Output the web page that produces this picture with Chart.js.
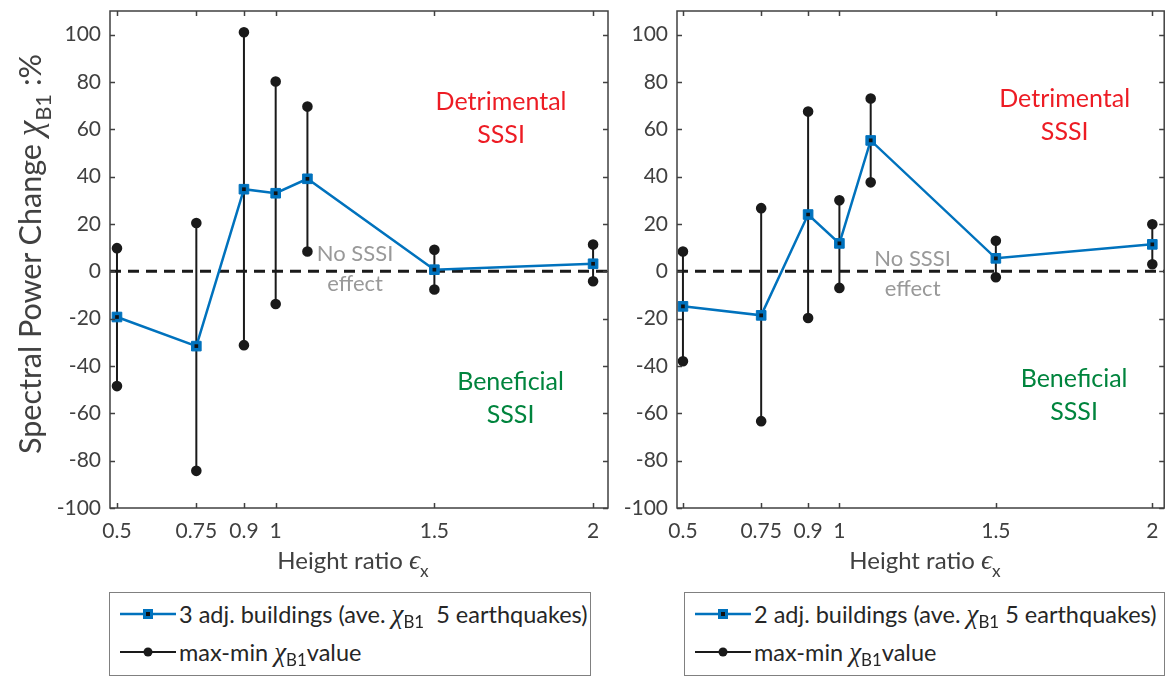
<!DOCTYPE html>
<html>
<head>
<meta charset="utf-8">
<script src="https://cdn.jsdelivr.net/npm/chart.js@4.4.1/dist/chart.umd.min.js"></script>
<style>
  body { margin: 0; background: #fff; width: 1172px; height: 677px; overflow: hidden; position: relative; font-family: Lato, sans-serif; color: #404040; }
  canvas { position: absolute; top: 0; }
  #chartLeft { left: 0; }
  #chartRight { left: 620px; }
  .ytitle { position: absolute; left: 30px; top: 254px; transform: translate(-50%, -50%) rotate(-90deg); white-space: nowrap; font-size: 30.5px; }
  .xtitle { position: absolute; top: 544px; transform: translateX(-50%); white-space: nowrap; font-size: 24px; }
  .sym { font-family: "Liberation Serif", serif; font-style: italic; font-size: 1.15em; }
  sub { font-size: 0.72em; position: relative; top: 0.45em; vertical-align: baseline; line-height: 0; }
  .legend { position: absolute; top: 592px; height: 82px; border: 1.5px solid #808080; background: #fff; font-size: 23.5px; color: #262626; }
  .row { position: absolute; left: 10px; height: 30px; display: flex; align-items: center; white-space: nowrap; }
  .row svg { margin-right: 3px; }
</style>
</head>
<body>
<canvas id="chartLeft" width="620" height="545"></canvas>
<canvas id="chartRight" width="552" height="545"></canvas>

<div class="ytitle">Spectral Power Change <span class="sym">χ</span><sub>B1</sub> :%</div>
<div class="xtitle" style="left:353px">Height ratio <span class="sym">ϵ</span><sub>x</sub></div>
<div class="xtitle" style="left:925px">Height ratio <span class="sym">ϵ</span><sub>x</sub></div>

<div class="legend" style="left:109px; width:480px">
  <div class="row" style="top:6px">
    <svg width="56" height="14"><line x1="0" y1="7" x2="56" y2="7" stroke="#0072BD" stroke-width="2.5"/><rect x="23" y="2" width="10" height="10" fill="#0072BD"/><rect x="26" y="5" width="4" height="4" fill="#111"/></svg>
    3 adj. buildings (ave.&nbsp;<span class="sym">χ</span><sub>B1</sub>&nbsp;&nbsp;5 earthquakes)
  </div>
  <div class="row" style="top:44px">
    <svg width="56" height="14"><line x1="0" y1="7" x2="56" y2="7" stroke="#1a1a1a" stroke-width="2"/><circle cx="28" cy="7" r="4.5" fill="#1a1a1a"/></svg>
    max-min&nbsp;<span class="sym">χ</span><sub>B1</sub>value
  </div>
</div>
<div class="legend" style="left:684px; width:479px">
  <div class="row" style="top:6px">
    <svg width="56" height="14"><line x1="0" y1="7" x2="56" y2="7" stroke="#0072BD" stroke-width="2.5"/><rect x="23" y="2" width="10" height="10" fill="#0072BD"/><rect x="26" y="5" width="4" height="4" fill="#111"/></svg>
    2 adj. buildings (ave.&nbsp;<span class="sym">χ</span><sub>B1</sub>&nbsp;5 earthquakes)
  </div>
  <div class="row" style="top:44px">
    <svg width="56" height="14"><line x1="0" y1="7" x2="56" y2="7" stroke="#1a1a1a" stroke-width="2"/><circle cx="28" cy="7" r="4.5" fill="#1a1a1a"/></svg>
    max-min&nbsp;<span class="sym">χ</span><sub>B1</sub>value
  </div>
</div>

<script>
// height ratio (x) and the measured values per panel
const heightRatio = [0.5, 0.75, 0.9, 1, 1.1, 1.5, 2];
const xTicks = [0.5, 0.75, 0.9, 1, 1.5, 2];
const yTicks = [-100, -80, -60, -40, -20, 0, 20, 40, 60, 80, 100];

// left: 3 adjacent buildings
const avg3 = [-19.3, -31.6, 34.7, 33, 39.1, 0.7, 3.2];
const max3 = [9.8, 20.4, 101, 80.2, 69.6, 9.1, 11.3];
const min3 = [-48.5, -84.3, -31.2, -13.8, 8.4, -7.7, -4.2];

// right: 2 adjacent buildings
const avg2 = [-14.8, -18.6, 24, 11.8, 55.3, 5.5, 11.4];
const max2 = [8.4, 26.7, 67.5, 30, 73, 12.9, 19.9];
const min2 = [-38, -63.3, -19.7, -7, 37.6, -2.5, 3];

const notesLeft = [
  { lines: ['Detrimental', 'SSSI'], x: 1.71, y: 64.5, color: '#ED1C24', size: 25 },
  { lines: ['Beneficial', 'SSSI'], x: 1.74, y: -53.5, color: '#00843D', size: 25 },
  { lines: ['No SSSI', 'effect'], x: 1.25, y: 1, color: '#999999', size: 22 }
];
const notesRight = [
  { lines: ['Detrimental', 'SSSI'], x: 1.72, y: 66, color: '#ED1C24', size: 25 },
  { lines: ['Beneficial', 'SSSI'], x: 1.75, y: -52.3, color: '#00843D', size: 25 },
  { lines: ['No SSSI', 'effect'], x: 1.234, y: -1, color: '#999999', size: 22 }
];

const framePlugin = {
  id: 'frame',
  afterDatasetsDraw(chart) {
    const { ctx, chartArea: a, scales: { x, y } } = chart;
    ctx.save();
    ctx.strokeStyle = '#404040';
    ctx.lineWidth = 1.5;
    ctx.strokeRect(a.left, a.top, a.right - a.left, a.bottom - a.top);
    ctx.beginPath();
    x.ticks.forEach(t => {
      const px = Math.round(x.getPixelForValue(t.value)) + 0.5;
      ctx.moveTo(px, a.bottom); ctx.lineTo(px, a.bottom - 5);
      ctx.moveTo(px, a.top); ctx.lineTo(px, a.top + 5);
    });
    y.ticks.forEach(t => {
      const py = Math.round(y.getPixelForValue(t.value)) + 0.5;
      ctx.moveTo(a.left, py); ctx.lineTo(a.left + 5, py);
      ctx.moveTo(a.right, py); ctx.lineTo(a.right - 5, py);
    });
    ctx.stroke();

    ctx.textAlign = 'center';
    ctx.textBaseline = 'middle';
    chart.options.plugins.frame.notes.forEach(n => {
      const cx = x.getPixelForValue(n.x);
      const cy = y.getPixelForValue(n.y);
      ctx.font = n.size + 'px Lato';
      ctx.fillStyle = n.color;
      n.lines.forEach((s, i) => ctx.fillText(s, cx, cy + (i - (n.lines.length - 1) / 2) * (n.size + 8)));
    });
    ctx.restore();
  }
};

function makeChart(id, avg, max, min, xMin, xMax, yWidth, padRight, notes) {
  const bars = [];
  heightRatio.forEach((h, i) => {
    bars.push({ x: h, y: min[i] }, { x: h, y: max[i] }, { x: h, y: null });
  });
  const means = heightRatio.map((h, i) => ({ x: h, y: avg[i] }));

  return new Chart(document.getElementById(id), {
    type: 'line',
    data: {
      datasets: [
        {
          data: means, showLine: false, pointStyle: 'rect', pointRadius: 2.6,
          pointBackgroundColor: '#111', pointBorderWidth: 0, order: 0
        },
        {
          data: means, borderColor: '#0072BD', borderWidth: 2.5, pointStyle: 'rect',
          pointRadius: 6.8, pointBackgroundColor: '#0072BD', pointBorderColor: '#0072BD',
          pointBorderWidth: 1, order: 1
        },
        {
          data: bars, borderColor: '#1a1a1a', borderWidth: 2, pointRadius: 4.3,
          pointBackgroundColor: '#1a1a1a', pointBorderColor: '#1a1a1a', spanGaps: false, order: 2
        },
        {
          data: [{ x: xMin, y: 0 }, { x: xMax, y: 0 }], borderColor: '#1a1a1a', borderWidth: 3,
          borderDash: [11, 7], pointRadius: 0, order: 3
        }
      ]
    },
    options: {
      responsive: false,
      animation: false,
      events: [],
      layout: { padding: { left: 0, top: 11, right: padRight, bottom: 0 } },
      plugins: { legend: { display: false }, tooltip: { enabled: false }, frame: { notes } },
      scales: {
        x: {
          type: 'linear', min: xMin, max: xMax,
          afterBuildTicks: s => { s.ticks = xTicks.map(v => ({ value: v })); },
          afterFit: s => { s.height = 37; s.paddingLeft = 0; s.paddingRight = 0; },
          grid: { display: false, drawTicks: false },
          border: { display: false },
          ticks: { padding: 11, font: { family: 'Lato', size: 21 }, color: '#404040', maxRotation: 0, autoSkip: false,
                   callback: v => String(v) }
        },
        y: {
          min: -100, max: 110,
          afterBuildTicks: s => { s.ticks = yTicks.map(v => ({ value: v })); },
          afterFit: s => { s.width = yWidth; s.paddingTop = 0; s.paddingBottom = 0; },
          grid: { display: false, drawTicks: false },
          border: { display: false },
          ticks: { padding: 9, font: { family: 'Lato', size: 21 }, color: '#404040' }
        }
      }
    },
    plugins: [framePlugin]
  });
}

makeChart('chartLeft', avg3, max3, min3, 0.478, 2.047, 110, 12, notesLeft);
makeChart('chartRight', avg2, max2, min2, 0.481, 2.038, 57, 1, notesRight);
</script>
</body>
</html>
